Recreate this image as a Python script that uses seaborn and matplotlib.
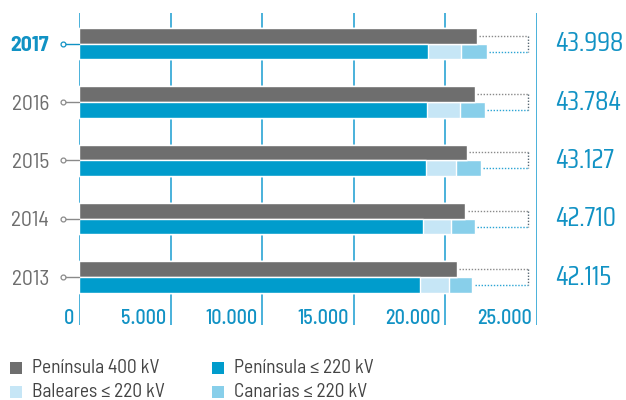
import pandas as pd
import matplotlib.pyplot as plt
import matplotlib.transforms as mtransforms
from matplotlib.patches import Rectangle
import seaborn as sns

# Datos (km de circuito)
anios = ['2017', '2016', '2015', '2014', '2013']
pen_400 = [21720, 21620, 21190, 21090, 20640]
pen_220 = [19060, 19010, 18950, 18790, 18630]
baleares = [1800, 1795, 1630, 1525, 1580]
canarias = [1418, 1359, 1357, 1305, 1265]
ticks_x = [0, 5000, 10000, 15000, 20000, 25000]
etiquetas_x = ['0', '5.000', '10.000', '15.000', '20.000', '25.000']
leyenda = ['Península 400 kV', 'Península ≤ 220 kV', 'Baleares ≤ 220 kV', 'Canarias ≤ 220 kV']

# Colores
GRIS = '#6e6e6e'
AZUL = '#009ccc'
AZUL_CLARO = '#c6e6f6'
AZUL_MEDIO = '#88cfea'
AZUL_TEXTO = '#1192c4'
AZUL_REJILLA = '#2ba4d4'
colores_leyenda = [GRIS, AZUL, AZUL_CLARO, AZUL_MEDIO]

sns.set_style('white')
plt.rcParams['font.family'] = ['Barlow Semi Condensed', 'DejaVu Sans']
FUENTE_ESTRECHA = ['Saira Condensed', 'DejaVu Sans']

# Acumulados para las barras apiladas
acum_bal = [p + b for p, b in zip(pen_220, baleares)]
acum_can = [a + c for a, c in zip(acum_bal, canarias)]
totales = [a + b for a, b in zip(pen_400, acum_can)]


def tabla(valores_220):
    filas = []
    for anio, v400, v220 in zip(anios, pen_400, valores_220):
        filas.append({'anio': anio, 'fila': '400', 'valor': v400})
        filas.append({'anio': anio, 'fila': '220', 'valor': v220})
    return pd.DataFrame(filas)


fig = plt.figure(figsize=(6.26, 4), dpi=100)
ax = fig.add_axes([79 / 626, 75 / 400, 458 / 626, 312 / 400])

# rejilla vertical
for t in ticks_x:
    ax.axvline(t, color=AZUL_REJILLA, lw=1.2, zorder=0)

# barras: de la capa mayor a la menor
for valores, color in [(acum_can, AZUL_MEDIO), (acum_bal, AZUL_CLARO), (pen_220, AZUL)]:
    sns.barplot(data=tabla(valores), x='valor', y='anio', hue='fila',
                order=anios, hue_order=['400', '220'],
                palette={'400': GRIS, '220': color}, saturation=1,
                width=0.54, dodge=True, gap=0, errorbar=None, legend=False,
                ax=ax, zorder=2)

ax.set_xlim(0, 25000)
ax.set_ylim(4.823, -0.527)
ax.set_xlabel('')
ax.set_ylabel('')
ax.set_xticks([])
sns.despine(ax=ax, left=True, bottom=True)

# etiquetas del eje x
for t, lab in zip(ticks_x, etiquetas_x):
    ax.annotate(lab, xy=(t, 4.72), xytext=(-3.5, 0), textcoords='offset points',
                ha='right', va='center', fontsize=14.5, fontweight='medium',
                color=AZUL_TEXTO)

# años, conectores y totales
trans = mtransforms.blended_transform_factory(ax.transAxes, ax.transData)
ax.set_yticks(range(len(anios)))
ax.set_yticklabels(anios, fontsize=15.5, color=GRIS)
ax.tick_params(axis='y', length=0, pad=21.5)
ax.get_yticklabels()[0].set_color(AZUL_TEXTO)
ax.get_yticklabels()[0].set_fontweight('bold')

x_br = 24500
for i, anio in enumerate(anios):
    col = AZUL_TEXTO if i == 0 else '#8a8a8a'
    ax.plot([-0.035, 0], [i, i], color=col, lw=1, transform=trans, clip_on=False)
    ax.plot([-0.035], [i], marker='o', ms=3.5, mfc='white', mec=col, mew=0.9,
            transform=trans, clip_on=False)
    # corchete punteado
    y_sup = i - 0.135
    y_inf = i + 0.135
    ax.plot([pen_400[i] + 120, x_br], [y_sup, y_sup], color='#8a8a8a', lw=1,
            ls=(0, (1, 1.2)), zorder=3)
    ax.plot([acum_can[i] + 120, x_br], [y_inf, y_inf], color=AZUL_REJILLA, lw=1,
            ls=(0, (1, 1.2)), zorder=3)
    ax.plot([x_br, x_br], [y_sup, y_inf], color='#5a6a75', lw=1,
            ls=(0, (1, 1.2)), zorder=3)
    total = f'{totales[i]:,}'.replace(',', '.')
    ax.text(1.04, i, total, transform=trans, ha='left', va='center',
            fontsize=19.5, color=AZUL_TEXTO, clip_on=False, family=FUENTE_ESTRECHA)

# leyenda (2 columnas, 2 filas)
pos_x = [10, 212]
pos_y = [368, 392]
for k, (lab, c) in enumerate(zip(leyenda, colores_leyenda)):
    px = pos_x[k % 2]
    py = pos_y[k // 2]
    fig.add_artist(Rectangle((px / 626, (400 - py - 6) / 400), 12 / 626, 12 / 400,
                             transform=fig.transFigure, facecolor=c, edgecolor='none'))
    fig.text((px + 22) / 626, (400 - py) / 400, lab, ha='left', va='center',
             fontsize=14, color='#444444')

fig.savefig('out.png', dpi=100)
